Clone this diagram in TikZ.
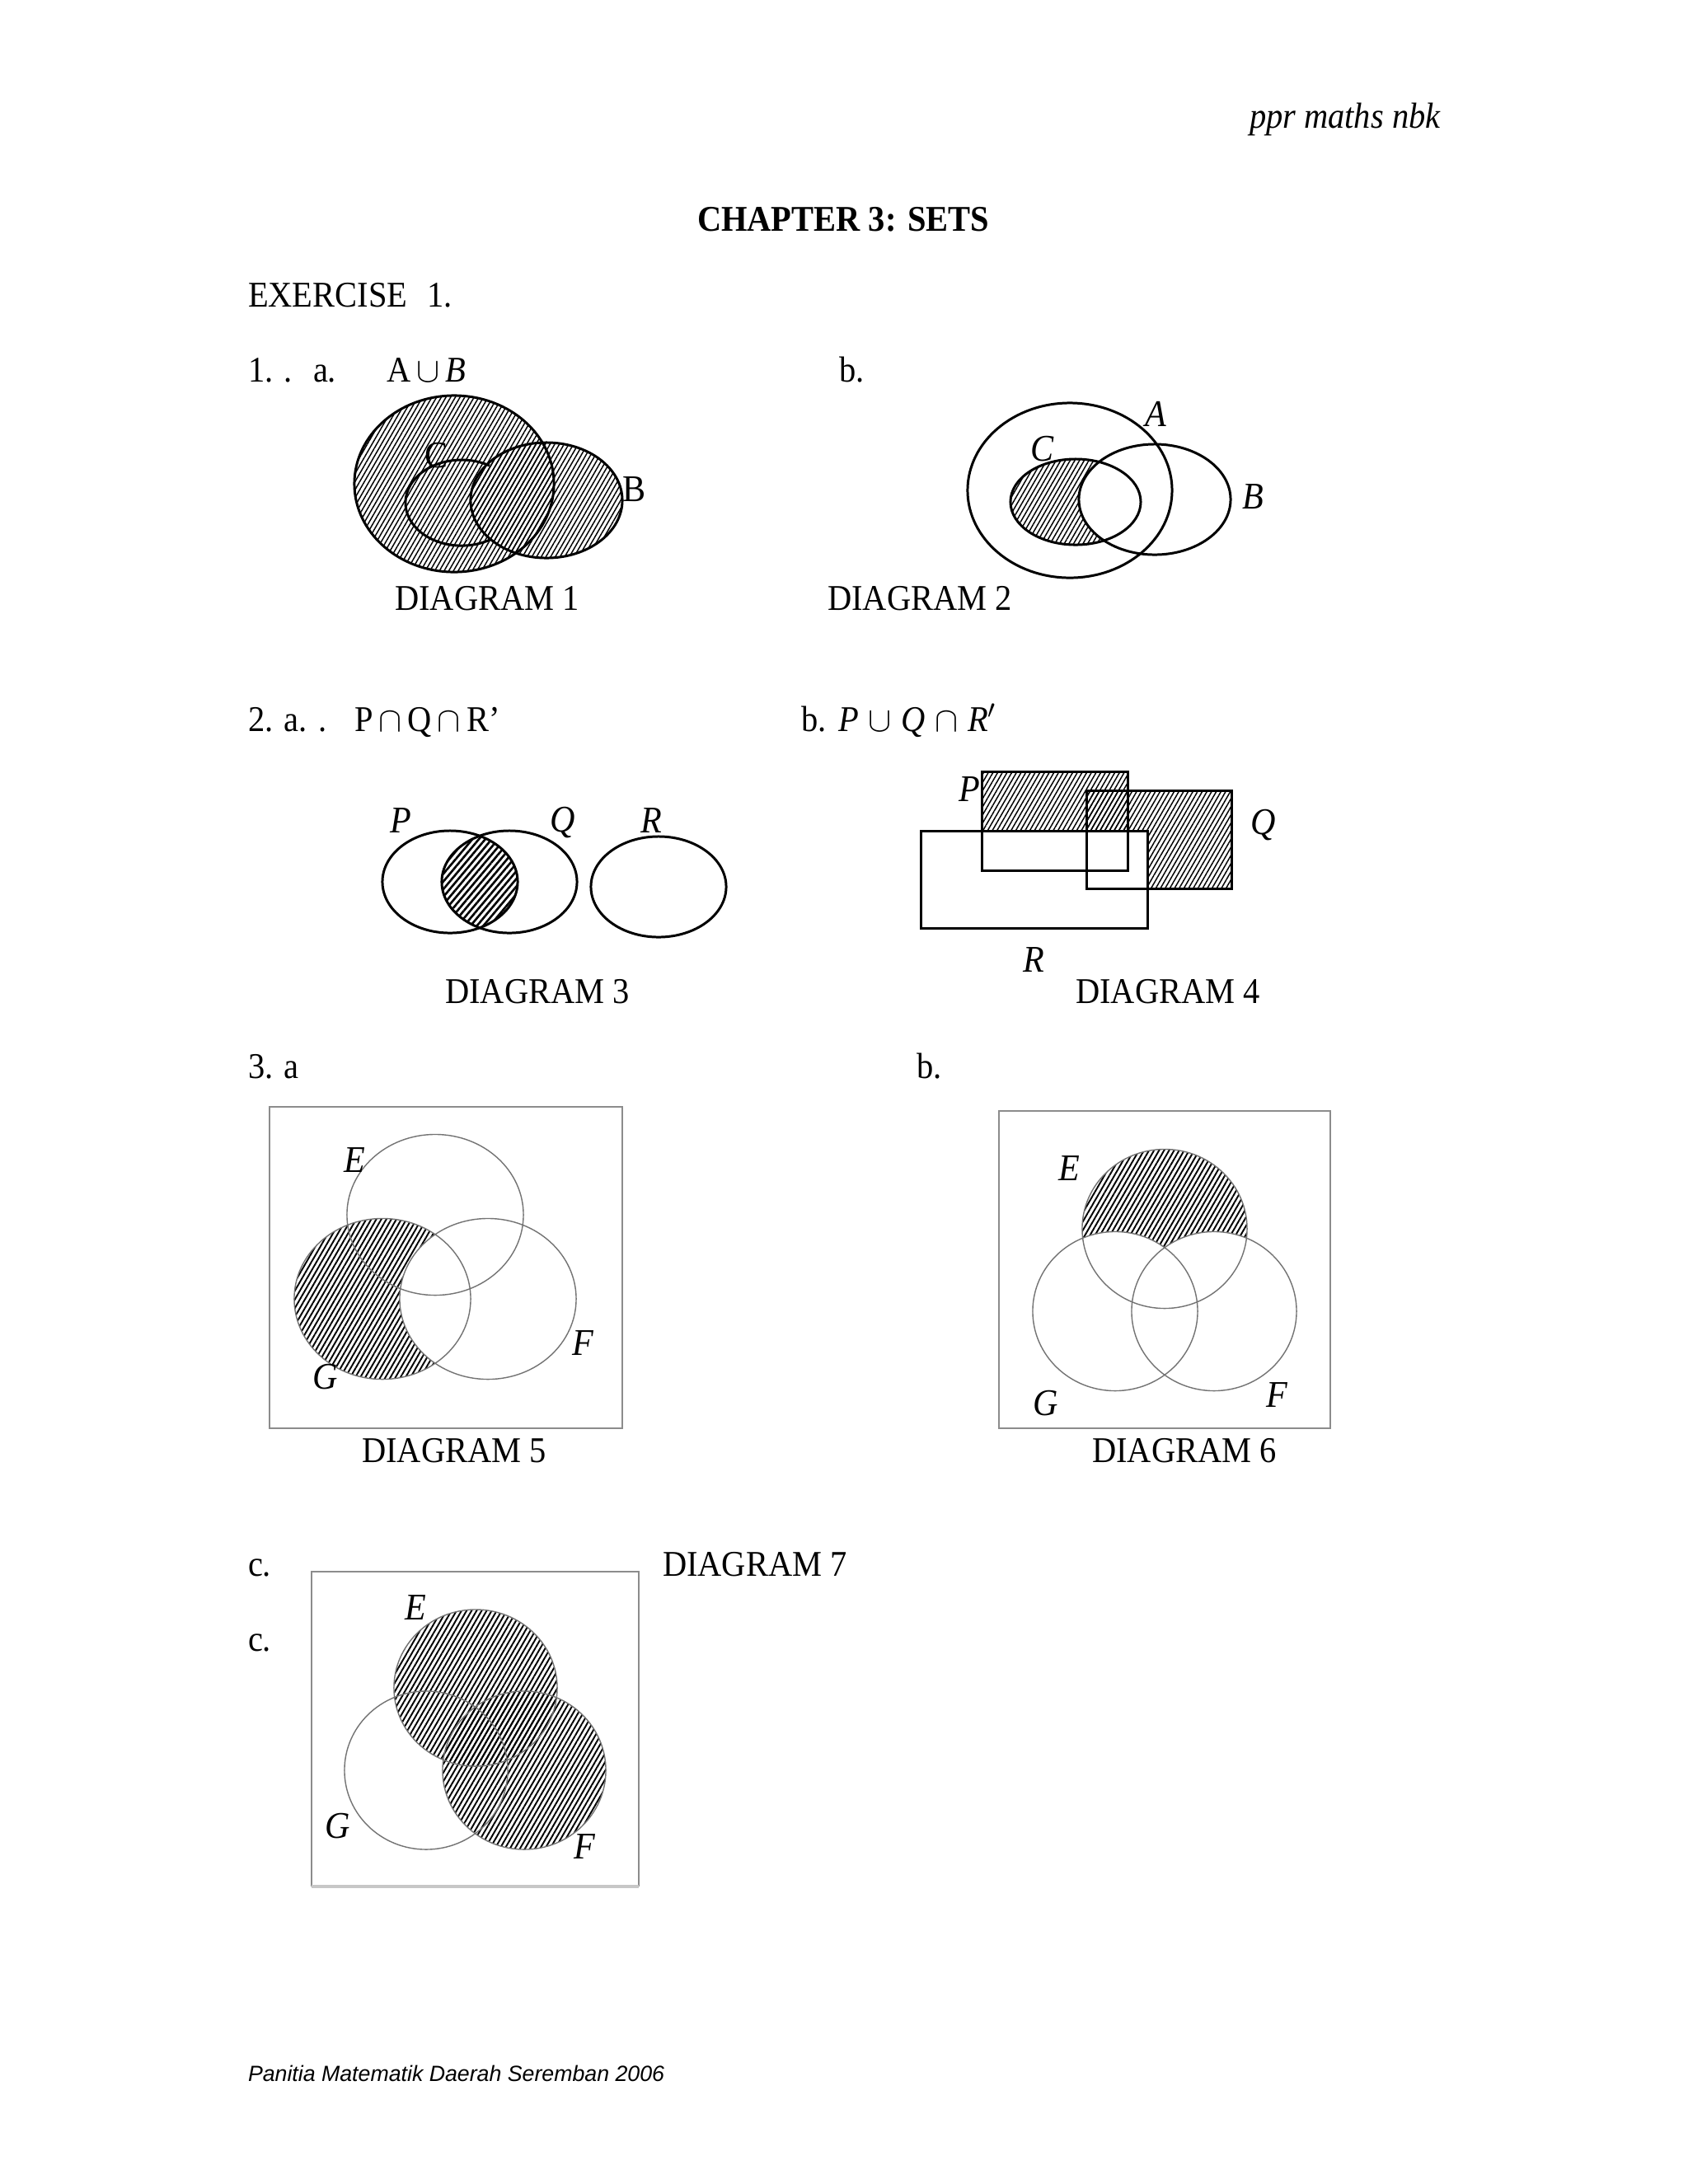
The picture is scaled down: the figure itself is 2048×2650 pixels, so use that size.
\documentclass[tikz,border=0pt]{standalone}
\usepackage{fontspec}
\setmainfont[FakeStretch=0.92]{Liberation Serif}
\newfontfamily\footfont{Liberation Sans}
\usetikzlibrary{patterns.meta}
\begin{document}
\begin{tikzpicture}[x=0.01cm,y=-0.01cm,
  every node/.style={inner sep=0pt,outer sep=0pt},
  txt/.style={font=\fontsize{12.5}{14}\selectfont, anchor=base west},
  ctxt/.style={font=\fontsize{12.5}{14}\selectfont, anchor=base},
  lbl/.style={font=\fontsize{13}{15}\selectfont\itshape},
  ulbl/.style={font=\fontsize{13}{15}\selectfont},
  hatch/.style={pattern={Lines[angle=60,distance=1.4pt,line width=0.42pt]}},
  hatchd/.style={pattern={Lines[angle=60,distance=1.5pt,line width=0.55pt]}},
  hatchb/.style={pattern={Lines[angle=50,distance=1.7pt,line width=0.75pt]}},
  blk/.style={draw=black,line width=0.85pt},
  gry/.style={draw=black!55,line width=0.4pt},
  frm/.style={draw=black!45,line width=0.6pt}]

\useasboundingbox (0,0) rectangle (2048,2650);
\fill[white] (0,0) rectangle (2048,2650);

% header
\node[txt, font=\fontsize{12.5}{14}\selectfont\itshape] (hdr) at (1516,155) {ppr maths nbk};
\node[ctxt, font=\fontsize{12.5}{14}\selectfont\bfseries] (title) at (1023,280) {CHAPTER 3: SETS};
\node[txt] (ex) at (301,372) {EXERCISE\hspace{0.55em}1.};

% question 1
\node[txt] (q1) at (301,463) {1. .};
\node[txt] (q1a) at (380,463) {a.};
\node[txt] (q1e) at (469,463) {A$\,\cup\,$\textit{B}};
\node[txt] (q1b) at (1018,463) {b.};

% diagram 1
\fill[hatch] (551,587) ellipse [x radius=1.21cm,y radius=1.07cm];
\fill[hatch] (663,607) ellipse [x radius=0.92cm,y radius=0.70cm];
\draw[blk] (551,587) ellipse [x radius=1.21cm,y radius=1.07cm];
\draw[blk] (663,607) ellipse [x radius=0.92cm,y radius=0.70cm];
\coordinate (d1Cs) at (594,565);
\draw[blk] (d1Cs) arc [start angle=60,end angle=300,x radius=0.68cm,y radius=0.52cm];
\node[ulbl] (d1C) at (530,553) {C};
\node[ulbl] (d1B) at (770,594) {B};
\node[ctxt] (d1cap) at (591,740) {DIAGRAM 1};

% diagram 2
\begin{scope}
  \clip (1305,609) ellipse [x radius=0.79cm,y radius=0.52cm];
  \fill[hatch,even odd rule] (1100,400) rectangle (1600,800)
     (1401,606) ellipse [x radius=0.92cm,y radius=0.67cm];
\end{scope}
\draw[blk] (1298,595) ellipse [x radius=1.24cm,y radius=1.06cm];
\draw[blk] (1305,609) ellipse [x radius=0.79cm,y radius=0.52cm];
\draw[blk] (1401,606) ellipse [x radius=0.92cm,y radius=0.67cm];
\node[lbl] (d2A) at (1402,502) {A};
\node[lbl] (d2C) at (1265,545) {C};
\node[lbl] (d2B) at (1520,603) {B};
\node[ctxt] (d2cap) at (1116,740) {DIAGRAM 2};

% question 2
\node[txt] (q2) at (301,887) {2. a. .};
\node[txt] (q2e) at (430,887) {P$\,\cap\,$Q$\,\cap\,$R’};
\node[txt] (q2b) at (972,887) {b.};
\node[txt] (q2be) at (1017,887) {\textit{P}$\;\cup\;$\textit{Q}$\;\cap\;$\textit{R}$^{\prime}$};

% diagram 3
\begin{scope}
  \clip (546,1070) ellipse [x radius=0.82cm,y radius=0.62cm];
  \fill[hatchb] (618,1070) ellipse [x radius=0.82cm,y radius=0.62cm];
\end{scope}
\draw[blk] (546,1070) ellipse [x radius=0.82cm,y radius=0.62cm];
\draw[blk] (618,1070) ellipse [x radius=0.82cm,y radius=0.62cm];
\draw[blk] (799,1076) ellipse [x radius=0.82cm,y radius=0.61cm];
\node[lbl] (d3P) at (486,996) {P};
\node[lbl] (d3Q) at (683,998) {Q};
\node[lbl] (d3R) at (790,996) {R};
\node[ctxt] (d3cap) at (652,1217) {DIAGRAM 3};

% diagram 4
\fill[hatch] (1191,936) rectangle (1368,1008);
\fill[hatch] (1318,959) rectangle (1494,1008);
\fill[hatch] (1392,1008) rectangle (1494,1078);
\draw[blk] (1191,936) rectangle (1368,1056);
\draw[blk] (1318,959) rectangle (1494,1078);
\draw[blk] (1117,1008) rectangle (1392,1126);
\node[lbl] (d4P) at (1176,958) {P};
\node[lbl] (d4Q) at (1533,1001) {Q};
\node[lbl] (d4R) at (1254,1165) {R};
\node[ctxt] (d4cap) at (1417,1217) {DIAGRAM 4};

% question 3
\node[txt] (q3) at (301,1308) {3. a};
\node[txt] (q3b) at (1112,1308) {b.};

% diagram 5
\draw[frm] (327,1343) rectangle (755,1733);
\begin{scope}
  \clip (464,1576) ellipse [x radius=1.07cm,y radius=0.975cm];
  \fill[hatchd,even odd rule] (300,1300) rectangle (800,1750)
     (592,1576) ellipse [x radius=1.07cm,y radius=0.975cm];
\end{scope}
\draw[gry] (528,1474) ellipse [x radius=1.07cm,y radius=0.975cm];
\draw[gry] (464,1576) ellipse [x radius=1.07cm,y radius=0.975cm];
\draw[gry] (592,1576) ellipse [x radius=1.07cm,y radius=0.975cm];
\node[lbl] (d5E) at (430,1408) {E};
\node[lbl] (d5F) at (707,1630) {F};
\node[lbl] (d5G) at (395,1671) {G};
\node[ctxt] (d5cap) at (551,1774) {DIAGRAM 5};

% diagram 6
\draw[frm] (1212,1348) rectangle (1614,1733);
\begin{scope}
  \clip (1413,1491) ellipse [x radius=1.00cm,y radius=0.965cm];
  \fill[hatchd] (1413,1491) ellipse [x radius=1.00cm,y radius=0.965cm];
  \fill[white] (1353,1591) ellipse [x radius=1.00cm,y radius=0.965cm];
  \fill[white] (1473,1591) ellipse [x radius=1.00cm,y radius=0.965cm];
\end{scope}
\draw[gry] (1413,1491) ellipse [x radius=1.00cm,y radius=0.965cm];
\draw[gry] (1353,1591) ellipse [x radius=1.00cm,y radius=0.965cm];
\draw[gry] (1473,1591) ellipse [x radius=1.00cm,y radius=0.965cm];
\node[lbl] (d6E) at (1297,1418) {E};
\node[lbl] (d6G) at (1269,1703) {G};
\node[lbl] (d6F) at (1549,1693) {F};
\node[ctxt] (d6cap) at (1437,1774) {DIAGRAM 6};

% diagram 7
\node[txt] (q3c) at (301,1912) {c.};
\node[txt] (q3c2) at (301,2003) {c.};
\node[txt] (d7cap) at (804,1912) {DIAGRAM 7};
\draw[frm] (378,2289) -- (378,1907) -- (775,1907) -- (775,2289);
\draw[draw=black!22,line width=1.1pt] (378,2289) -- (775,2289);
\fill[hatchd] (577,2048) ellipse [x radius=0.99cm,y radius=0.95cm];
\fill[hatchd] (636,2148) ellipse [x radius=0.99cm,y radius=0.96cm];
\draw[gry] (577,2048) ellipse [x radius=0.99cm,y radius=0.95cm];
\draw[gry] (517,2148) ellipse [x radius=0.99cm,y radius=0.96cm];
\draw[gry] (636,2148) ellipse [x radius=0.99cm,y radius=0.96cm];
\node[lbl] (d7E) at (504,1951) {E};
\node[lbl] (d7G) at (410,2216) {G};
\node[lbl] (d7F) at (709,2241) {F};

% footer
\node[anchor=base west, font=\footfont\itshape\fontsize{7.6}{9}\selectfont] (foot) at (301,2525) {Panitia Matematik Daerah Seremban 2006};
\end{tikzpicture}
\end{document}
